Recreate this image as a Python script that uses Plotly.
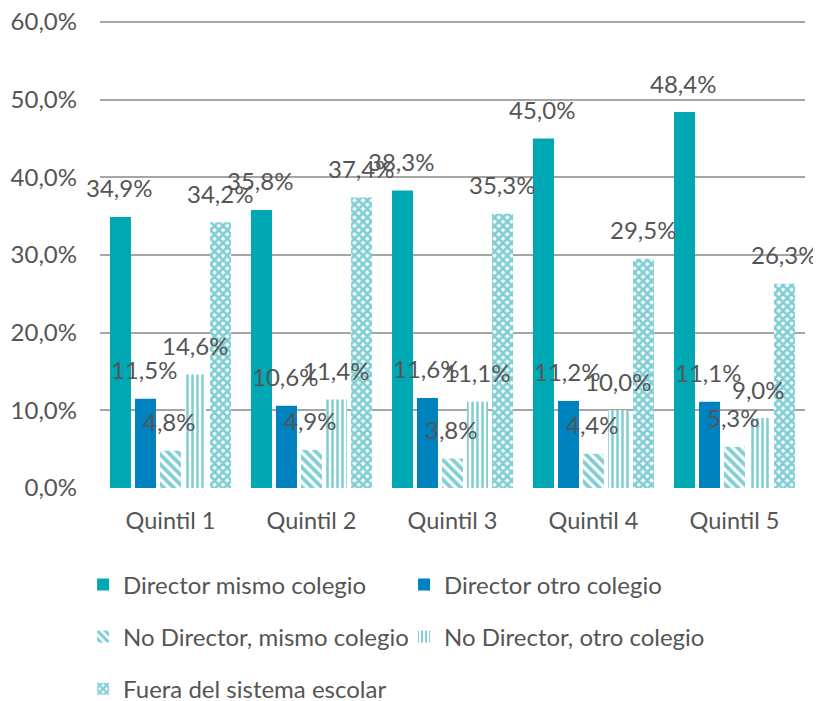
import plotly.graph_objects as go

categories = ["Quintil 1", "Quintil 2", "Quintil 3", "Quintil 4", "Quintil 5"]
director_mismo = [34.9, 35.8, 38.3, 45.0, 48.4]
director_otro = [11.5, 10.6, 11.6, 11.2, 11.1]
no_director_mismo = [4.8, 4.9, 3.8, 4.4, 5.3]
no_director_otro = [14.6, 11.4, 11.1, 10.0, 9.0]
fuera_sistema = [34.2, 37.4, 35.3, 29.5, 26.3]
series_names = ["Director mismo colegio", "Director otro colegio",
                "No Director, mismo colegio", "No Director, otro colegio",
                "Fuera del sistema escolar"]
tick_vals = [0, 10, 20, 30, 40, 50, 60]
tick_text = ["0,0%", "10,0%", "20,0%", "30,0%", "40,0%", "50,0%", "60,0%"]

TEAL = "#00A8B4"
TEAL_PAT = "#009EAA"
BLUE = "#0082BF"
TXT = "#555555"
FONT = "Lato"

series = [director_mismo, director_otro, no_director_mismo, no_director_otro, fuera_sistema]
legends = ["legend", "legend", "legend2", "legend2", "legend3"]

fig = go.Figure()
for i, (name, vals) in enumerate(zip(series_names, series)):
    if i == 0:
        marker = dict(color=TEAL, line=dict(width=0))
    elif i == 1:
        marker = dict(color=BLUE, line=dict(width=0))
    elif i == 2:
        marker = dict(color="white", line=dict(width=0),
                      pattern=dict(shape="\\", fgcolor=TEAL_PAT, bgcolor="white", size=7, solidity=0.55))
    elif i == 3:
        marker = dict(color="white", line=dict(width=0),
                      pattern=dict(shape="|", fgcolor=TEAL_PAT, bgcolor="white", size=5, solidity=0.5))
    else:
        marker = dict(color="white", line=dict(width=0),
                      pattern=dict(shape="x", fgcolor=TEAL_PAT, bgcolor="white", size=6, solidity=0.7))
    fig.add_trace(go.Bar(x=categories, y=vals, name=name, marker=marker,
                         legend=legends[i]))

# page body has an 8px margin, so the figure is 8px smaller in each direction
W, H = 813, 693
plot_left, plot_right = 92, 797
cat_w = (plot_right - plot_left) / len(categories)
bargap = 0.113
slot = cat_w * (1 - bargap) / len(series)
annotations = []
for i, vals in enumerate(series):
    for c, v in zip(categories, vals):
        annotations.append(dict(
            x=c, y=v, xref="x", yref="y",
            text=f"{v:.1f}".replace(".", ",") + "%",
            showarrow=False, xanchor="center", yanchor="middle",
            xshift=(i - 2) * slot - 1, yshift=29,
            font=dict(family=FONT, size=24, color=TXT)))

leg_font = dict(family=FONT, size=24, color=TXT)
leg_common = dict(orientation="h", x=-0.024, xanchor="left", yanchor="middle",
                  entrywidth=276, entrywidthmode="pixels",
                  font=leg_font, bgcolor="rgba(0,0,0,0)")
fig.update_layout(
    width=W, height=H,
    margin=dict(l=plot_left, r=W - plot_right, t=10, b=213, autoexpand=False),
    paper_bgcolor="white", plot_bgcolor="white",
    barmode="group", bargap=bargap, bargroupgap=0.16,
    font=dict(family=FONT, color=TXT),
    annotations=annotations,
    xaxis=dict(range=[-0.5, 4.5], autorange=False,
               showgrid=False, showline=False, ticks="", automargin=False,
               ticklabelstandoff=16, ticklabeloverflow="allow",
               tickfont=dict(family=FONT, size=23.5, color=TXT)),
    yaxis=dict(range=[0, 60.5], autorange=False, tickvals=tick_vals, ticktext=tick_text,
               showgrid=True, gridcolor="#A6A6A6", gridwidth=2,
               zeroline=False, showline=False, ticks="", automargin=False,
               ticklabelstandoff=22, ticklabeloverflow="allow",
               tickfont=dict(family=FONT, size=24, color=TXT)),
    legend=dict(y=-0.2064, **leg_common),
    legend2=dict(y=-0.317, **leg_common),
    legend3=dict(y=-0.428, **leg_common),
)

fig.write_html("out.html")
